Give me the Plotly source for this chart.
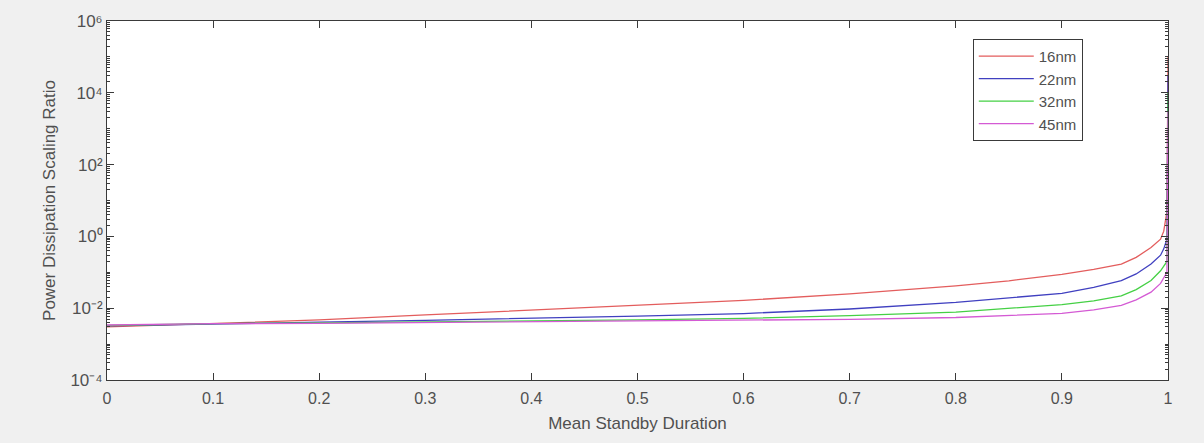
import plotly.graph_objects as go

# Mean standby duration sample points (denser near 1 where the curves blow up)
duration = [0.0, 0.1, 0.2, 0.3, 0.4, 0.5, 0.6, 0.7, 0.8, 0.85, 0.9, 0.93,
            0.956, 0.97, 0.984, 0.993, 0.996, 0.999, 1.0]

ratio_16nm = [0.0030, 0.0037, 0.0047, 0.0065, 0.0089, 0.012, 0.0165, 0.025,
              0.042, 0.058, 0.088, 0.12, 0.17, 0.26, 0.49, 0.84, 1.4, 5.0, 1e5]
ratio_22nm = [0.0032, 0.0037, 0.0041, 0.0046, 0.0052, 0.0060, 0.0071, 0.0095,
              0.0145, 0.019, 0.026, 0.038, 0.059, 0.09, 0.17, 0.30, 0.45, 0.84, 3e4]
ratio_32nm = [0.0033, 0.0037, 0.0039, 0.0041, 0.0044, 0.0047, 0.0052, 0.0062,
              0.0078, 0.0098, 0.0126, 0.016, 0.022, 0.033, 0.059, 0.11, 0.15, 0.20, 1e4]
ratio_45nm = [0.0034, 0.0037, 0.0038, 0.0040, 0.0042, 0.0044, 0.0046, 0.0049,
              0.0055, 0.0062, 0.0072, 0.0090, 0.012, 0.017, 0.028, 0.049, 0.07, 0.10, 3e3]

series_names = ["16nm", "22nm", "32nm", "45nm"]
series_colors = ["#e35d5d", "#4040c0", "#45d045", "#d45ad4"]

x_ticks = [0, 0.1, 0.2, 0.3, 0.4, 0.5, 0.6, 0.7, 0.8, 0.9, 1]
x_tick_labels = ["0", "0.1", "0.2", "0.3", "0.4", "0.5", "0.6", "0.7", "0.8", "0.9", "1"]
y_labeled = [-4, -2, 0, 2, 4, 6]
y_tick_labels = ["10⁻⁴", "10⁻²", "10⁰", "10²", "10⁴", "10⁶"]
y_unlabeled = [-3, -1, 1, 3, 5]

fig = go.Figure()
for name, color, ys in zip(series_names, series_colors,
                           [ratio_16nm, ratio_22nm, ratio_32nm, ratio_45nm]):
    fig.add_trace(go.Scatter(x=duration, y=ys, mode="lines", name=name,
                             line=dict(color=color, width=1.3)))

axis_color = "#3a3a3a"
text_color = "#505050"
font_family = "Liberation Sans, Arial, sans-serif"

y_tickvals = [10.0 ** d for d in y_labeled]
y_minor = sorted([m * 10.0 ** d for d in range(-4, 6) for m in range(2, 10)]
                 + [10.0 ** d for d in y_unlabeled])

fig.update_layout(
    width=1204, height=443,
    margin=dict(l=107, r=36, t=19, b=63),
    paper_bgcolor="#f0f0f0",
    plot_bgcolor="#ffffff",
    font=dict(family=font_family, color=text_color, size=15),
    showlegend=True,
    legend=dict(
        x=0.816, y=0.95, xanchor="left", yanchor="top",
        bgcolor="#ffffff", bordercolor=axis_color, borderwidth=1,
        font=dict(size=15, color=text_color),
        itemwidth=55,
        tracegroupgap=0,
    ),
    xaxis=dict(
        range=[0, 1], tickmode="array", tickvals=x_ticks, ticktext=x_tick_labels,
        ticks="inside", ticklen=7, tickcolor=axis_color, mirror="ticks",
        showline=True, linecolor=axis_color, linewidth=1, showgrid=False,
        zeroline=False, tickfont=dict(size=16, color=text_color),
        ticklabelstandoff=4,
        title=dict(text="Mean Standby Duration", font=dict(size=17, color=text_color),
                   standoff=10),
    ),
    yaxis=dict(
        type="log", range=[-4, 6], tickmode="array",
        tickvals=y_tickvals, ticktext=y_tick_labels,
        ticks="inside", ticklen=7, tickcolor=axis_color, mirror="ticks",
        showline=True, linecolor=axis_color, linewidth=1, showgrid=False,
        zeroline=False, tickfont=dict(size=17, color=text_color),
        minor=dict(tickmode="array", tickvals=y_minor, ticks="inside",
                   ticklen=3, tickcolor=axis_color, showgrid=False),
        title=dict(text="Power Dissipation Scaling Ratio",
                   font=dict(size=17, color=text_color), standoff=10),
    ),
)

fig.write_html("out.html")
